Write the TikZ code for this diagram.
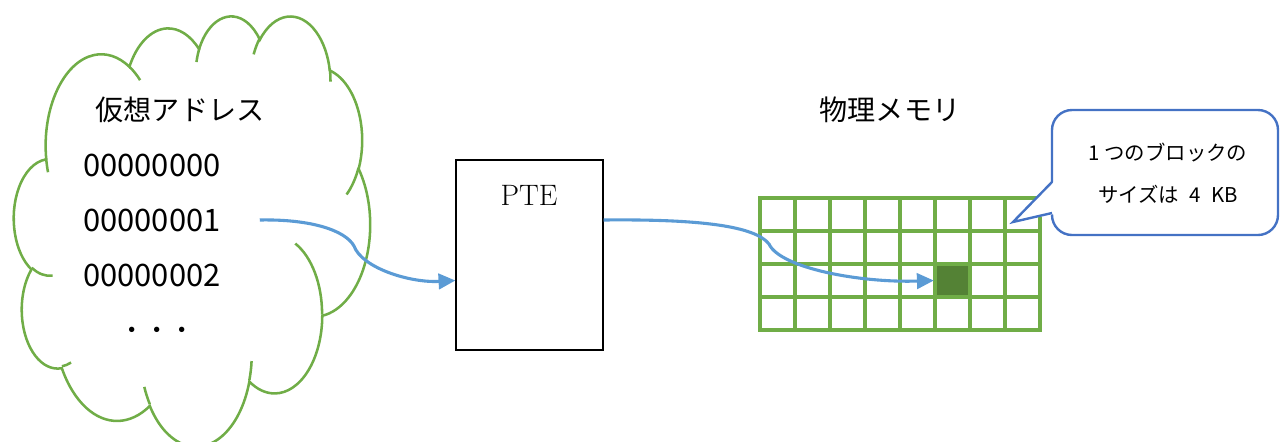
\documentclass[tikz,border=0pt]{standalone}
\usepackage{fontspec}
\newfontfamily\jpfont{Noto Sans CJK JP}
\usetikzlibrary{arrows.meta}
\definecolor{cloudgreen}{HTML}{70AD47}
\definecolor{blockgreen}{HTML}{548235}
\definecolor{linkblue}{HTML}{5B9BD5}
\definecolor{noteblue}{HTML}{4472C4}
\begin{document}
\begin{tikzpicture}[x=0.025cm,y=-0.025cm,>={Triangle[length=12pt,width=11pt]},
	line width=1.7pt]
	\tikzstyle{addr}=[font=\jpfont\fontsize{22}{26}\selectfont,anchor=west,inner sep=0pt]
	\tikzstyle{title}=[font=\jpfont\fontsize{20}{24}\selectfont]
	\tikzstyle{link}=[->,draw=linkblue,line width=2.2pt]
	\tikzstyle{cell}=[draw=cloudgreen,line width=2.2pt,line cap=rect]
	\tikzstyle{puff}=[draw=cloudgreen,line width=1.8pt]
	\useasboundingbox (0,0) rectangle (1280,441);

	% cloud: arcs given by radii, start and sweep angle (visual angles)
	\begin{scope}[shift={(14,15)},x=0.020602cm,y=-0.024884cm]
	\draw[puff] (39.00,143.70)
		\foreach \wr/\hr/\st/\sw in {67.53/91.90/-190.487/123.781,53.33/72.67/-144.102/89.945,
			43.65/59.45/-145.808/99.723,48.57/65.95/-130.986/117.242,53.33/72.73/-78.709/109.027,
			67.75/92.20/-46.267/130.269,57.85/78.67/0.625/114.033,67.52/92.15/22.452/115.173,
			77.20/105.43/66.243/75.711,43.60/59.18/-274.942/146.736,43.45/59.45/-246.829/152.519}
		{ arc[x radius=\wr,y radius=\hr,start angle={atan2(\wr*sin(\st),\hr*cos(\st))},
			delta angle={mod(atan2(\wr*sin(\st+\sw),\hr*cos(\st+\sw))-atan2(\wr*sin(\st),\hr*cos(\st))+720,360)}] }
		-- cycle;
	\foreach \px/\py/\wr/\hr/\st/\sw in {46.93/261.77/43.45/59.45/86.742/26.430,
			69.28/348.99/43.60/59.18/73.611/11.448,164.78/390.90/67.52/92.15/137.624/14.081,
			288.27/347.51/67.52/92.15/6.453/15.998,341.29/229.54/57.85/78.67/-70.292/70.917,
			417.98/153.54/53.33/72.73/30.318/27.752,383.24/54.26/48.57/65.95/-13.744/14.859,
			290.78/39.52/48.57/65.95/-149.182/18.195,221.41/47.20/43.65/59.45/-163.494/17.686,
			140.00/51.92/67.53/91.90/-66.707/12.319,41.27/157.89/67.53/91.90/157.654/11.858}
		\draw[puff] (\px,\py) arc[x radius=\wr,y radius=\hr,start angle={atan2(\wr*sin(\st),\hr*cos(\st))},
			delta angle={mod(atan2(\wr*sin(\st+\sw),\hr*cos(\st+\sw))-atan2(\wr*sin(\st),\hr*cos(\st))+720,360)}];
	\end{scope}

	\node[title]     (vtitle)   at (180,110) {仮想アドレス};
	\node[addr]      (addr0)    at (82,165)  {00000000};
	\node[addr]      (addr1)    at (82,220)  {00000001};
	\node[addr]      (addr2)    at (82,275)  {00000002};
	\node[font=\jpfont\fontsize{18}{22}\selectfont] (addrdots) at (157,333) {・・・};

	\node[draw,line width=0.8pt,minimum width=3.675cm,minimum height=4.75cm] (pte) at (529.5,255) {};
	\node[font=\fontsize{21}{25}\selectfont] (ptelabel) at (529,195) {PTE};

	\node[title] (pmtitle) at (890,110) {物理メモリ};
	\node[fill=blockgreen,minimum width=0.875cm,minimum height=0.825cm,inner sep=0pt] (block) at (952.5,280.5) {};
	\foreach \i in {0,...,8}
		\draw[cell] (760+35*\i,198) -- (760+35*\i,330);
	\foreach \j in {0,...,4}
		\draw[cell] (760,198+33*\j) -- (1040,198+33*\j);

	\node[font=\jpfont\fontsize{14.5}{30}\selectfont,align=center] (note) at (1168,173)
		{1 つのブロックの\\サイズは\enspace 4\enspace KB};
	\coordinate (notetip) at (1013,222);
	\draw[noteblue,rounded corners=0.5cm] (1052,110) rectangle (1278,235);
	\fill[white] (1054.5,181) -- (notetip) -- (1054.5,214) -- cycle;
	\draw[noteblue,line join=miter] (1052,182) -- (notetip) -- (1052,213);

	\draw[link] ([xshift=0.95cm]addr1.east) .. controls (310,219) and (345,230) .. (354,246)
		.. controls (362,268) and (410,283) .. (pte.west |- block.west);
	\draw[link] (pte.east |- addr1.east) .. controls (700,219) and (755,226) .. (769,244)
		.. controls (780,268) and (860,283) .. (block.west);
\end{tikzpicture}
\end{document}
